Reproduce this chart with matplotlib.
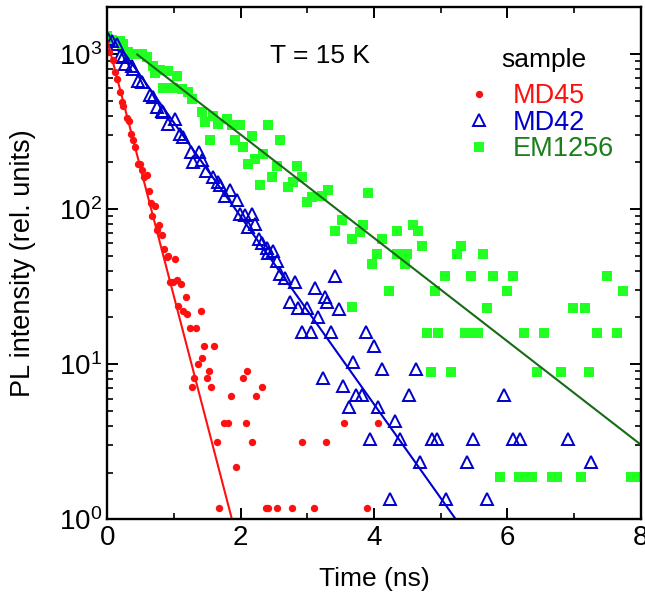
import numpy as np
import matplotlib
matplotlib.use("Agg")
import matplotlib.pyplot as plt

plt.rcParams['font.family'] = ['Liberation Sans', 'DejaVu Sans']
plt.rcParams['mathtext.fontset'] = 'custom'
plt.rcParams['mathtext.rm'] = 'Liberation Sans'
plt.rcParams['mathtext.it'] = 'Liberation Sans'

# MD45 (red dots)
md45_t = [0.03, 0.08, 0.115, 0.14, 0.19, 0.22, 0.24, 0.30, 0.33, 0.355, 0.39, 0.415,
          0.455, 0.49, 0.525, 0.555, 0.59, 0.625, 0.655, 0.675, 0.71, 0.75, 0.77, 0.815,
          0.85, 0.89, 0.915, 0.94, 0.99, 1.015, 1.04, 1.065, 1.11, 1.13, 1.18, 1.20,
          1.24, 1.275, 1.305, 1.33, 1.365, 1.40, 1.425, 1.455, 1.50, 1.53, 1.56, 1.605,
          1.645, 1.68, 1.745, 1.805, 1.855, 1.935, 2.03, 2.075, 2.10, 2.165, 2.235, 2.325,
          2.375, 2.41, 2.54, 2.775, 2.92, 3.105, 3.275, 3.55, 3.89, 4.06]
md45_i = [1036, 916, 762, 692, 566, 489, 465, 385, 372, 307, 280, 251,
          194, 196, 179, 161, 167, 131, 109, 90, 105, 73, 79, 68,
          55, 49, 50, 34, 34, 48, 35, 23.7, 33, 21.9, 27, 21,
          17.1, 7.1, 8.2, 17.1, 10, 21.9, 11, 13.1, 8.2, 9.1, 7.1, 13.1,
          3.16, 1.18, 4.15, 4.15, 6.2, 2.18, 8.2, 4.15, 9.1, 3.16, 6.2, 7.1,
          1.18, 1.18, 1.18, 1.18, 3.16, 1.18, 3.16, 4.15, 1.18, 4.15]

# MD42 (blue open triangles)
md42_t = [0.015, 0.066, 0.14, 0.19, 0.24, 0.265, 0.366, 0.39, 0.465, 0.515, 0.64, 0.69,
          0.74, 0.815, 0.84, 0.915, 1.015, 1.09, 1.13, 1.25, 1.38, 1.29, 1.415, 1.48,
          1.59, 1.665, 1.69, 1.765, 1.84, 1.94, 1.99, 2.065, 2.165, 2.215, 2.115, 2.28,
          2.315, 2.39, 2.49, 2.415, 2.54, 2.59, 2.665, 2.815, 3.115, 2.74, 2.865, 2.99,
          3.29, 3.48, 3.165, 3.41, 3.26, 2.915, 3.055, 3.355, 3.88, 4.0, 3.69, 4.12,
          4.625, 3.23, 3.54, 3.73, 3.82, 4.53, 5.95, 3.63, 4.06, 4.31, 3.94, 4.39,
          4.865, 4.94, 5.48, 6.08, 6.19, 6.91, 4.69, 5.40, 7.26, 4.24, 5.08, 5.69]
md42_i = [1250, 1220, 1160, 977, 952, 864, 842, 801, 674, 657, 540, 526,
          454, 432, 422, 355, 382, 306, 291, 233, 233, 201, 206, 177,
          161, 149, 142, 122, 132, 114, 93, 91, 93, 80, 77, 64,
          60, 56, 54, 52, 46, 38, 36, 34, 31, 25, 23, 23,
          25, 22.8, 20, 36.8, 27, 16.1, 16.1, 16.1, 16.1, 13.1, 10.3, 9.25,
          9.25, 8.2, 7.2, 6.3, 6.3, 6.3, 6.3, 5.3, 5.3, 4.3, 3.3, 3.3,
          3.3, 3.3, 3.3, 3.3, 3.3, 3.3, 2.33, 2.33, 2.33, 1.35, 1.35, 1.35]

# EM1256 (green squares)
em_t = [0.0, 0.066, 0.115, 0.19, 0.215, 0.24, 0.315, 0.39, 0.515, 0.59, 0.69, 0.715,
        0.79, 0.915, 1.04, 0.84, 0.99, 1.115, 1.215, 1.265, 1.415, 1.465, 1.59, 1.665,
        1.79, 1.865, 1.99, 2.415, 1.54, 1.915, 2.04, 2.165, 2.59, 2.34, 2.215, 2.115,
        2.54, 2.85, 2.465, 2.915, 2.29, 2.79, 2.715, 3.065, 2.99, 3.215, 3.315, 3.915,
        3.515, 3.415, 3.665, 3.84, 3.79, 4.125, 4.34, 4.59, 4.665, 4.715, 4.04, 3.975,
        4.34, 4.50, 4.465, 5.065, 5.30, 5.24, 5.455, 5.63, 5.79, 6.085, 7.50, 4.225,
        4.915, 5.99, 7.73, 3.665, 5.69, 6.985, 7.16, 4.79, 4.96, 5.36, 5.45, 5.56,
        6.245, 6.545, 7.35, 7.645, 4.85, 5.15, 6.445, 6.80, 7.225, 5.89, 6.17, 6.27,
        6.37, 6.67, 6.74, 7.11, 7.85, 7.93]
em_i = [1300, 1233, 1220, 1220, 1104, 1161, 1026, 1000, 1000, 952, 842, 759,
        794, 782, 726, 603, 603, 596, 566, 514, 422, 363, 401, 355,
        382, 346, 346, 346, 277, 277, 251, 298, 277, 227, 211, 196,
        191, 191, 161, 161, 142, 149, 139, 119, 111, 121, 133, 127,
        85, 72, 64, 79, 71, 64, 72, 79, 72, 58, 51, 44,
        51, 51, 44, 37, 58, 51, 37, 51, 37, 37, 37, 29.6,
        29.6, 29.6, 29.6, 23.2, 23.1, 23.1, 23.1, 15.8, 15.8, 15.8, 15.8, 15.8,
        15.8, 15.8, 15.8, 15.8, 8.85, 8.85, 8.85, 8.85, 8.85, 1.88, 1.88, 1.88,
        1.88, 1.88, 1.88, 1.88, 1.88, 1.88]

# single exponential fits: amplitude, decay time (ns), start of drawn curve (ns)
fit_amp = {'MD45': 1220, 'MD42': 1450, 'EM1256': 1400}
fit_tau = {'MD45': 0.263, 'MD42': 0.718, 'EM1256': 1.304}
fit_start = {'MD45': 0.0, 'MD42': 0.25, 'EM1256': 0.45}


def fit_curve(name):
    tt = np.linspace(fit_start[name], 8, 400)
    return tt, fit_amp[name] * np.exp(-tt / fit_tau[name])


fig = plt.figure(figsize=(6.45, 5.99), dpi=100)
ax = fig.add_axes([0.1664, 0.1331, 0.8269, 0.8547])

# green
g_pts, = ax.plot(em_t, em_i, linestyle='none', marker='s', ms=7.4, mfc='#22ff22', mec='#22ff22', mew=0)
ax.plot(*fit_curve('EM1256'), color='#176b17', lw=1.5)

# blue
b_pts, = ax.plot(md42_t, md42_i, linestyle='none', marker='^', ms=8.5, mfc='none', mec='#0000cc', mew=1.4)
ax.plot(*fit_curve('MD42'), color='#0000cc', lw=1.5)

# red
r_pts, = ax.plot(md45_t, md45_i, linestyle='none', marker='o', ms=5.3, mfc='#ff1010', mec='#ff1010', mew=0)
ax.plot(*fit_curve('MD45'), color='#ff1010', lw=1.5)

ax.set_yscale('log')
ax.set_xlim(0, 8)
ax.set_ylim(1, 2000)
ax.set_xticks([0, 2, 4, 6, 8])
ax.set_xticks([1, 3, 5, 7], minor=True)

for s in ax.spines.values():
    s.set_linewidth(1.7)
ax.tick_params(which='both', direction='in', top=True, right=True, labelsize=20)
ax.tick_params(which='major', length=8, width=1.4)
ax.tick_params(which='minor', length=4.5, width=1.2)
ax.tick_params(axis='x', which='major', pad=4)
ax.tick_params(axis='y', which='major', pad=4)

ax.set_xlabel('Time (ns)', fontsize=19, labelpad=12)
ax.set_ylabel('PL intensity (rel. units)', fontsize=19.5, labelpad=16)

ax.text(0.305, 0.891, 'T = 15 K', transform=ax.transAxes, fontsize=19, ha='left', va='baseline')
ax.text(0.819, 0.883, 'sample', transform=ax.transAxes, fontsize=19, ha='center', va='baseline')

ax.legend([r_pts, b_pts, g_pts], ['MD45', 'MD42', 'EM1256'],
          loc='upper left', bbox_to_anchor=(0.672, 0.852), frameon=False,
          fontsize=19.5, borderpad=0, borderaxespad=0, handlelength=1.0,
          handletextpad=0.75, labelspacing=0.02,
          labelcolor=['#ff1010', '#0000cc', '#1a7f1a'])

fig.savefig('out.png', dpi=100)
